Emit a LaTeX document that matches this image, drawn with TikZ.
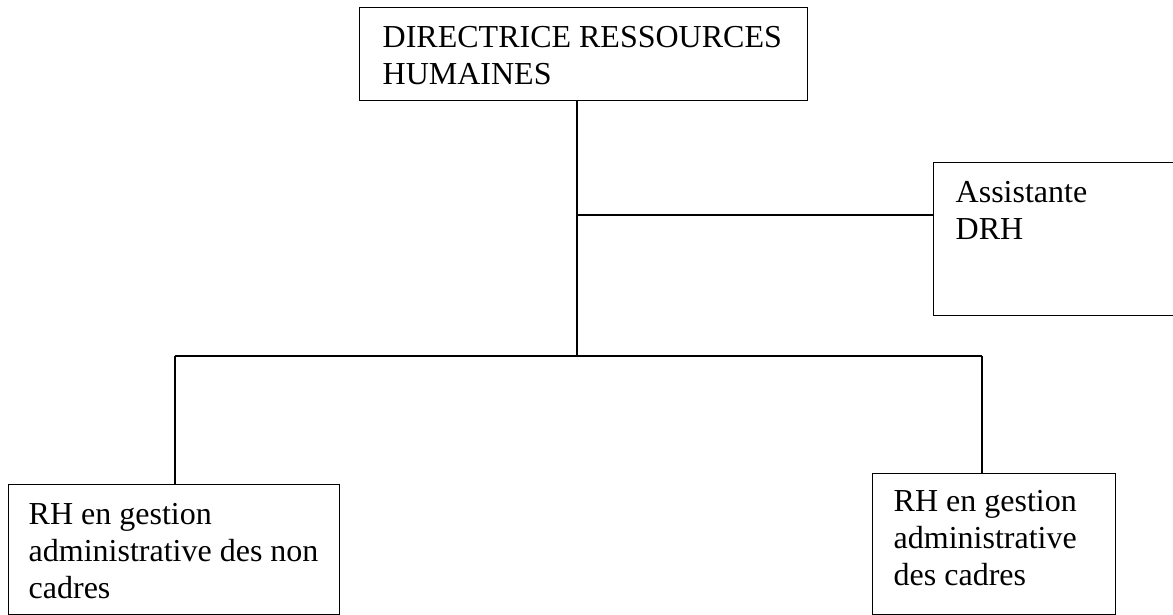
\documentclass[tikz,border=0pt]{standalone}
\usepackage{fontspec}
\setmainfont{Liberation Serif}
\begin{document}
\begin{tikzpicture}[x=1pt,y=-1pt,line width=1.4pt,
  boxstyle/.style={draw,line width=1.4pt,inner sep=0pt,anchor=north west},
  txtstyle/.style={anchor=base west,inner sep=0pt,align=left,font=\fontsize{32}{37}\selectfont}]
\useasboundingbox (0,0) rectangle (1173,615);
\begin{scope}
\clip (0,0) rectangle (1173,615);
% boxes
\node[boxstyle,minimum width=448pt,minimum height=93pt] (drh) at (359,7) {};
\node[boxstyle,minimum width=260pt,minimum height=153pt] (asst) at (933,162) {};
\node[boxstyle,minimum width=331pt,minimum height=130pt] (rhnc) at (8,484) {};
\node[boxstyle,minimum width=243pt,minimum height=141pt] (rhc) at (872,473) {};
% texts (anchor at baseline of last line)
\node[txtstyle] (tdrh) at (382,85) {DIRECTRICE RESSOURCES\\HUMAINES};
\node[txtstyle] (tasst) at (955,239) {Assistante\\DRH};
\node[txtstyle] (trhnc) at (28,598) {RH en gestion\\administrative des non\\cadres};
\node[txtstyle] (trhc) at (893,585) {RH en gestion\\administrative\\des cadres};
% junctions
\coordinate (j1) at (577,215);
\coordinate (j2) at (577,356);
\coordinate (bl) at (175,356);
\coordinate (br) at (982,356);
% connectors
\draw (j2 |- drh.south) -- (j2);
\draw (j1) -- (j1 -| asst.west);
\draw (bl) -- (br);
\draw (bl) -- (bl |- rhnc.north);
\draw (br) -- (br |- rhc.north);
\end{scope}
\end{tikzpicture}
\end{document}
